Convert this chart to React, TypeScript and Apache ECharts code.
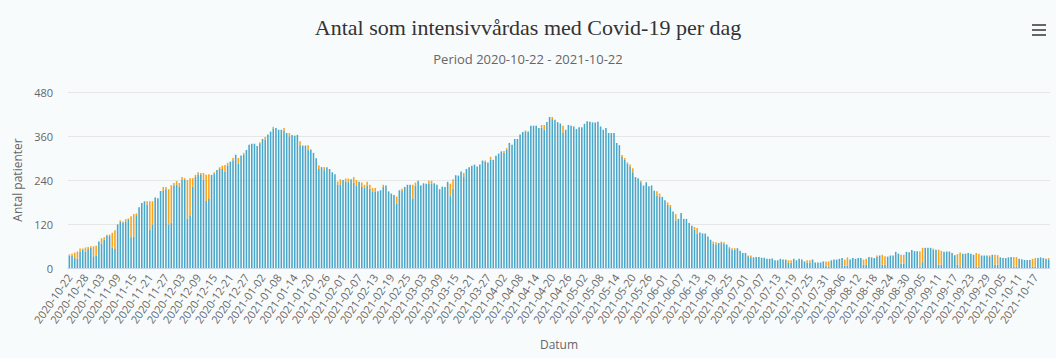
import React, { useEffect, useRef } from "react";
import * as echarts from "echarts";

const TITLE = "Antal som intensivvårdas med Covid-19 per dag";
const SUBTITLE = "Period 2020-10-22 - 2021-10-22";
const X_NAME = "Datum";
const Y_NAME = "Antal patienter";
const Y_TICKS = [0, 120, 240, 360, 480];

// one category per day, 2020-10-22 .. 2021-10-22
const START_DATE = "2020-10-22";
const DAY_COUNT = 366;
function buildDates(): string[] {
  const out: string[] = [];
  const d0 = new Date(START_DATE + "T12:00:00Z");
  for (let i = 0; i < DAY_COUNT; i++) {
    const d = new Date(d0.getTime() + i * 86400000);
    out.push(d.toISOString().slice(0, 10));
  }
  return out;
}
const dates = buildDates();

// blue: reported patients
const blueValues = [
  34, 34, 27, 25, 45, 50, 45, 52, 55, 32, 34, 72, 67, 78, 87, 87, 56, 52, 119, 127,
  124, 127, 133, 84, 85, 144, 166, 177, 182, 173, 105, 119, 191, 190, 210, 210, 215, 119, 124, 226,
  228, 221, 240, 240, 135, 144, 222, 248, 256, 256, 241, 183, 188, 254, 258, 267, 270, 270, 263, 280,
  290, 294, 309, 284, 307, 309, 322, 336, 339, 339, 333, 340, 352, 350, 364, 372, 381, 382, 377, 377,
  375, 368, 359, 363, 361, 363, 335, 334, 334, 323, 323, 314, 299, 270, 275, 267, 275, 270, 261, 256,
  228, 228, 240, 236, 234, 242, 233, 225, 235, 221, 218, 225, 216, 209, 207, 209, 212, 221, 225, 209,
  203, 199, 175, 212, 210, 221, 227, 227, 190, 225, 238, 225, 231, 230, 229, 229, 231, 227, 213, 222,
  221, 235, 196, 216, 253, 252, 263, 250, 270, 275, 279, 282, 277, 282, 293, 290, 288, 295, 295, 306,
  312, 318, 314, 323, 341, 336, 352, 352, 364, 371, 371, 372, 388, 388, 388, 382, 382, 377, 398, 412,
  406, 404, 398, 394, 368, 377, 390, 388, 386, 379, 384, 384, 393, 400, 399, 397, 397, 399, 386, 377,
  382, 368, 368, 368, 341, 335, 303, 295, 285, 277, 261, 248, 245, 234, 225, 234, 223, 225, 211, 198,
  194, 194, 185, 172, 166, 154, 130, 134, 150, 134, 134, 123, 115, 105, 94, 97, 94, 94, 86, 77,
  66, 64, 68, 68, 66, 64, 54, 50, 50, 54, 47, 41, 41, 32, 29, 29, 30, 30, 28, 28,
  25, 25, 26, 21, 21, 25, 23, 23, 14, 14, 25, 21, 25, 23, 18, 14, 14, 23, 15, 15,
  15, 18, 6, 4, 21, 23, 23, 25, 27, 6, 6, 23, 27, 25, 27, 27, 9, 9, 30, 28,
  27, 31, 34, 9, 9, 31, 34, 34, 44, 39, 12, 12, 44, 43, 49, 46, 46, 4, 16, 55,
  55, 55, 50, 50, 9, 9, 44, 45, 45, 41, 35, 9, 4, 39, 39, 41, 39, 36, 4, 4,
  34, 34, 34, 30, 36, 9, 9, 29, 27, 27, 29, 30, 4, 4, 25, 24, 22, 22, 22, 4,
  4, 27, 29, 27, 25, 22,
];

// orange: preliminary / not yet confirmed, stacked on top
const orangeValues = [
  3, 5, 15, 20, 8, 3, 11, 5, 4, 27, 27, 0, 14, 6, 4, 4, 40, 51, 0, 3,
  3, 6, 2, 57, 62, 5, 0, 0, 0, 9, 77, 63, 2, 0, 0, 11, 6, 96, 102, 6,
  9, 11, 8, 5, 105, 101, 23, 6, 5, 3, 18, 71, 68, 0, 3, 0, 5, 9, 18, 7,
  0, 6, 0, 16, 0, 5, 0, 0, 0, 0, 0, 3, 0, 7, 0, 0, 4, 0, 0, 0,
  7, 0, 9, 0, 0, 0, 11, 0, 0, 12, 0, 0, 0, 10, 0, 8, 0, 0, 0, 0,
  8, 14, 0, 8, 10, 0, 15, 15, 0, 12, 9, 10, 11, 9, 11, 0, 0, 6, 0, 0,
  0, 0, 20, 0, 6, 0, 0, 0, 37, 8, 0, 0, 0, 0, 9, 9, 0, 0, 3, 0,
  0, 0, 34, 26, 0, 0, 0, 9, 0, 0, 0, 0, 0, 0, 0, 3, 0, 8, 0, 0,
  0, 0, 5, 4, 0, 0, 0, 0, 0, 0, 4, 0, 0, 0, 0, 0, 8, 13, 0, 0,
  6, 0, 0, 0, 20, 0, 0, 0, 0, 0, 0, 0, 0, 0, 0, 0, 0, 0, 0, 0,
  0, 0, 0, 0, 0, 0, 5, 5, 3, 5, 11, 0, 0, 4, 0, 0, 0, 0, 0, 11,
  9, 0, 0, 7, 6, 0, 17, 0, 0, 0, 0, 0, 0, 7, 15, 0, 1, 0, 0, 0,
  6, 6, 0, 4, 4, 0, 3, 4, 4, 0, 0, 0, 0, 2, 5, 0, 0, 0, 0, 0,
  0, 0, 0, 0, 0, 0, 0, 0, 7, 7, 0, 0, 0, 0, 0, 7, 7, 0, 0, 0,
  0, 0, 12, 14, 0, 0, 0, 0, 0, 17, 23, 0, 0, 0, 0, 0, 14, 16, 0, 2,
  0, 3, 0, 27, 23, 0, 0, 0, 0, 0, 24, 24, 0, 0, 0, 0, 0, 42, 39, 0,
  0, 0, 3, 0, 41, 38, 0, 0, 0, 0, 0, 29, 38, 0, 0, 0, 0, 0, 37, 35,
  0, 0, 0, 4, 0, 27, 26, 0, 0, 0, 0, 0, 26, 26, 0, 0, 0, 0, 0, 21,
  23, 0, 0, 0, 0, 5,
];

const BLUE = "#4aa7c8";
const ORANGE = "#f9a31b";
const SANS = "'Open Sans', 'Noto Sans', sans-serif";

export default function App() {
  const ref = useRef<HTMLDivElement>(null);
  useEffect(() => {
    if (!ref.current) return;
    const chart = echarts.init(ref.current, undefined, { renderer: "svg" });
    const menuLines = [0, 1, 2].map((k) => ({
      type: "rect",
      shape: { x: 1032, y: 24 + k * 5, width: 14, height: 2 },
      style: { fill: "#666666" },
    }));
    chart.setOption({
      animation: false,
      backgroundColor: "#f8fbfc",
      title: [
        {
          text: TITLE,
          left: "center",
          top: 11,
          textStyle: {
            fontFamily: "'Liberation Serif', serif",
            fontSize: 22,
            fontWeight: "normal",
            color: "#333333",
          },
        },
        {
          text: SUBTITLE,
          left: "center",
          top: 47,
          textStyle: {
            fontFamily: SANS,
            fontSize: 13,
            fontWeight: "normal",
            color: "#666666",
          },
        },
      ],
      grid: { left: 68, right: 6, top: 92, bottom: 90 },
      xAxis: {
        type: "category",
        data: dates,
        name: X_NAME,
        nameLocation: "middle",
        nameGap: 70,
        nameTextStyle: { fontFamily: SANS, fontSize: 12, color: "#666666" },
        axisLine: { lineStyle: { color: "#ccd6eb" } },
        axisTick: { show: false },
        axisLabel: {
          interval: 5,
          rotate: 55,
          fontFamily: SANS,
          fontSize: 11,
          color: "#666666",
          margin: 7,
        },
      },
      yAxis: {
        type: "value",
        min: Y_TICKS[0],
        max: Y_TICKS[Y_TICKS.length - 1],
        interval: Y_TICKS[1] - Y_TICKS[0],
        name: Y_NAME,
        nameLocation: "middle",
        nameGap: 44,
        nameTextStyle: { fontFamily: SANS, fontSize: 12, color: "#666666" },
        axisLine: { show: false },
        axisTick: { show: false },
        splitLine: { lineStyle: { color: "#e6e6e6" } },
        axisLabel: { fontFamily: SANS, fontSize: 11, color: "#666666", margin: 15 },
      },
      series: [
        {
          type: "bar",
          name: "Blå",
          stack: "total",
          data: blueValues,
          itemStyle: { color: BLUE },
          barCategoryGap: "42%",
        },
        {
          type: "bar",
          name: "Orange",
          stack: "total",
          data: orangeValues,
          itemStyle: { color: ORANGE },
          barCategoryGap: "42%",
        },
      ],
      graphic: menuLines,
    });
    return () => chart.dispose();
  }, []);
  return (
    <div
      ref={ref}
      style={{ position: "fixed", left: 0, top: 0, width: 1056, height: 358 }}
    />
  );
}
